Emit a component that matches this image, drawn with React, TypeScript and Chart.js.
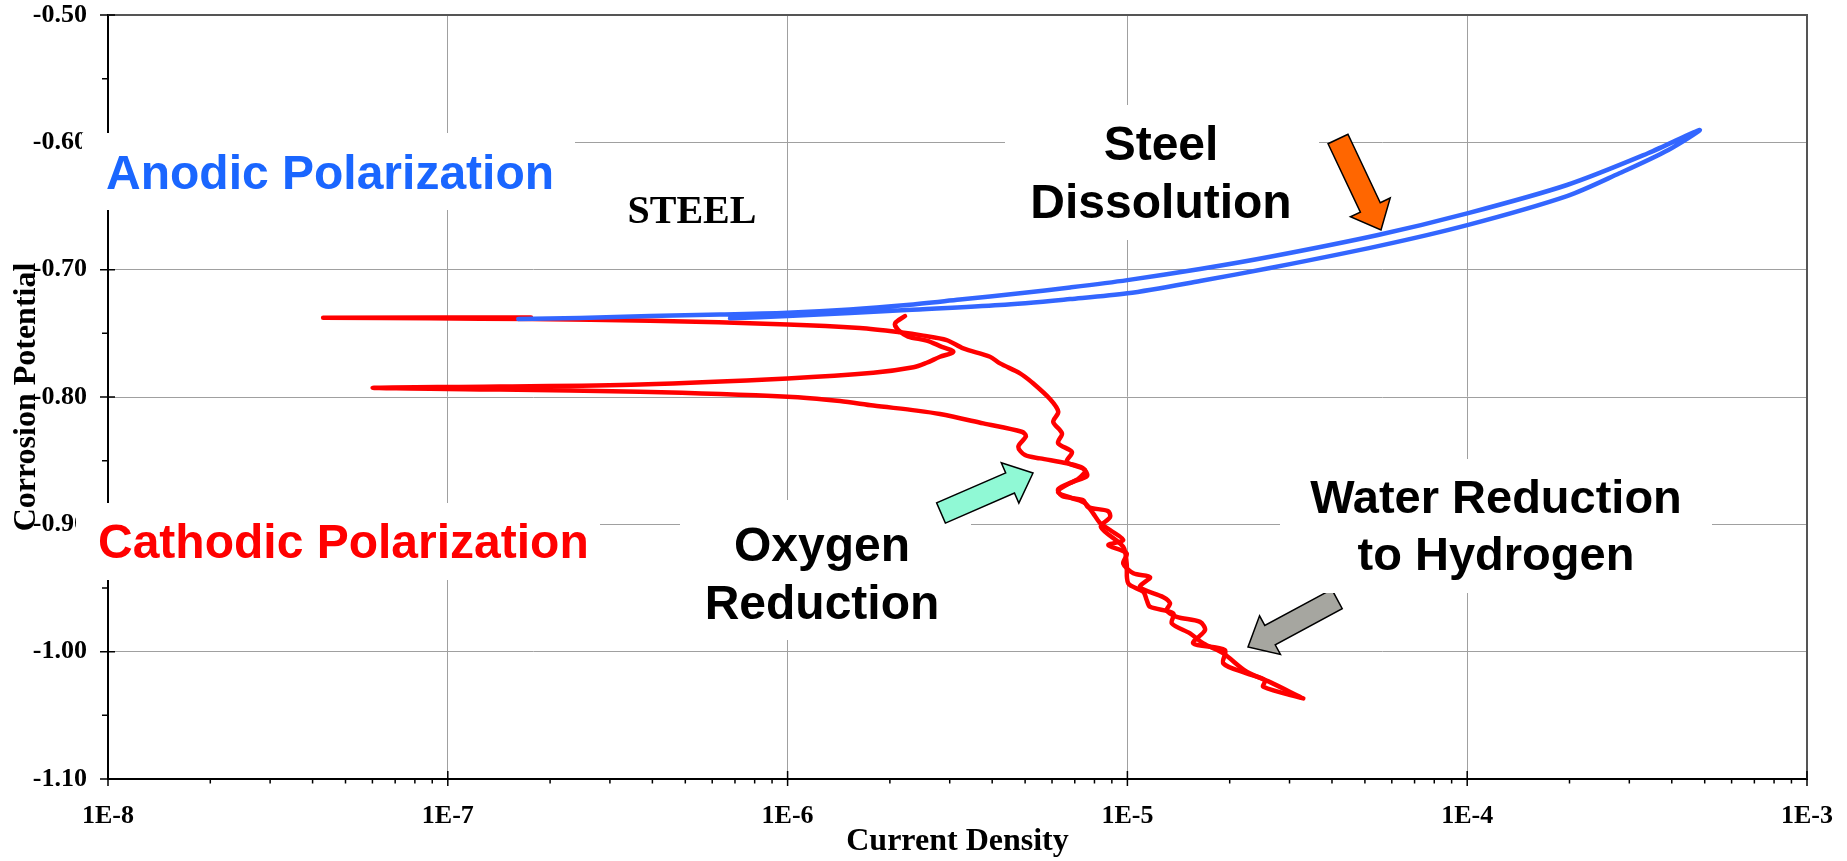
import React, { useEffect, useRef } from 'react';
import { Chart, registerables } from 'chart.js';

Chart.register(...registerables);

// ---- axis ticks ----
const xTickValues = [1e-8, 1e-7, 1e-6, 1e-5, 1e-4, 1e-3];
const xTickLabels = ['1E-8', '1E-7', '1E-6', '1E-5', '1E-4', '1E-3'];
const xMinorFactors = [2, 3, 4, 5, 6, 7, 8, 9];
const yTickValues = [-1.1, -1.0, -0.9, -0.8, -0.7, -0.6, -0.5];
const yTickLabels = ['-1.10', '-1.00', '-0.90', '-0.80', '-0.70', '-0.60', '-0.50'];
const yMinorValues = [-1.05, -0.95, -0.85, -0.75, -0.65, -0.55];

// ---- anodic scan (blue) ----
const anodicCurrent = [
  1.612e-7, 2.449e-7, 3.936e-7, 6.32e-7, 1.0e-6, 1.526e-6, 2.242e-6, 3.216e-6, 4.83e-6, 6.78e-6,
  1.0e-5, 1.636e-5, 2.629e-5, 5.465e-5, 1.0e-4, 1.966e-4, 3.404e-4, 4.834e-4, 3.908e-4, 2.805e-4,
  1.966e-4, 1.0e-4, 5.465e-5, 2.629e-5, 1.636e-5, 1.0e-5, 6.78e-6, 4.217e-6, 2.242e-6, 1.526e-6,
  1.0e-6, 6.77e-7,
];
const anodicPotential = [
  -0.7388, -0.738, -0.7364, -0.7353, -0.7338, -0.7313, -0.7278, -0.7235, -0.7186, -0.714,
  -0.7082, -0.6995, -0.6899, -0.6728, -0.6558, -0.6335, -0.6086, -0.5903, -0.606, -0.6243,
  -0.6422, -0.665, -0.6815, -0.6987, -0.7089, -0.7186, -0.7231, -0.7278, -0.7317, -0.7341,
  -0.7364, -0.7382,
];

// ---- cathodic scan A (red) ----
const cathodicACurrent = [
  1.758e-7, 4.322e-8, 8.864e-8, 1.758e-7, 3.936e-7, 1.0e-6, 1.633e-6, 2.142e-6, 2.508e-6, 2.939e-6,
  3.289e-6, 3.941e-6, 4.217e-6, 4.83e-6, 5.228e-6, 5.918e-6, 6.26e-6, 6.05e-6, 6.42e-6, 6.25e-6,
  6.87e-6, 6.63e-6, 7.5e-6, 7.155e-6, 6.26e-6, 6.42e-6, 7.4e-6, 7.66e-6, 8.77e-6, 8.89e-6,
  8.36e-6, 9.72e-6, 9.95e-6, 1.006e-5, 1.114e-5, 1.14e-5, 1.166e-5, 1.366e-5, 1.351e-5, 1.529e-5,
  1.674e-5, 1.916e-5, 2.244e-5, 2.629e-5, 3.22e-5,
];
const cathodicAPotential = [
  -0.7376, -0.7378, -0.7382, -0.7388, -0.7401, -0.743, -0.7459, -0.7492, -0.7518, -0.7553,
  -0.7618, -0.7684, -0.7736, -0.7814, -0.7883, -0.8016, -0.8116, -0.8195, -0.8286, -0.8362,
  -0.8433, -0.8509, -0.8574, -0.8645, -0.8723, -0.8778, -0.881, -0.8865, -0.8896, -0.8943,
  -0.9022, -0.9176, -0.9307, -0.9464, -0.953, -0.9595, -0.9648, -0.97, -0.9778, -0.9857,
  -0.9935, -1.0014, -1.0158, -1.0239, -1.0355,
];

// ---- cathodic scan B (red) ----
const cathodicBCurrent = [
  2.216e-6, 2.071e-6, 2.118e-6, 2.261e-6, 2.567e-6, 2.809e-6, 3.075e-6, 2.809e-6, 2.567e-6, 2.346e-6,
  1.787e-6, 1.0e-6, 3.679e-7, 1.424e-7, 6.01e-8, 1.424e-7, 3.679e-7, 1.0e-6, 1.426e-6, 1.787e-6,
  2.399e-6, 2.809e-6, 3.767e-6, 4.886e-6, 5.03e-6, 4.775e-6, 4.997e-6, 5.534e-6, 6.63e-6, 7.4e-6,
  7.605e-6, 6.78e-6, 6.25e-6, 6.87e-6, 7.5e-6, 7.92e-6, 8.31e-6, 8.89e-6, 9.72e-6, 8.79e-6,
  9.95e-6, 9.72e-6, 1.041e-5, 1.166e-5, 1.089e-5, 1.276e-5, 1.335e-5, 1.305e-5, 1.397e-5, 1.636e-5,
  1.692e-5, 1.563e-5, 1.937e-5, 1.915e-5, 2.244e-5, 2.541e-5, 2.512e-5, 3.294e-5,
];
const cathodicBPotential = [
  -0.7364, -0.7422, -0.7474, -0.7525, -0.7557, -0.76, -0.7645, -0.7684, -0.7731, -0.7767,
  -0.781, -0.7854, -0.7901, -0.7918, -0.7928, -0.7942, -0.7959, -0.7998, -0.8032, -0.8067,
  -0.8107, -0.8134, -0.8207, -0.8273, -0.8307, -0.8391, -0.8456, -0.8482, -0.8521, -0.8558,
  -0.8621, -0.8676, -0.8747, -0.8794, -0.8833, -0.8912, -0.899, -0.9045, -0.9124, -0.9163,
  -0.9228, -0.9307, -0.9385, -0.9415, -0.9493, -0.9572, -0.9621, -0.9674, -0.9726, -0.9766,
  -0.9831, -0.9935, -0.9988, -1.0092, -1.0171, -1.0224, -1.0276, -1.0367,
];

const toPoints = (xs: number[], ys: number[]) => xs.map((x, i) => ({ x, y: ys[i] }));

const SERIF = '"Liberation Serif", "Times New Roman", serif';
const SANS = '"Liberation Sans", Arial, sans-serif';

type Box = { x: number; y: number; w: number; h: number };
type Note = { box: Box; lines: string[]; color: string; align: 'left' | 'center'; tx: number; baselines: number[]; font: string };

const notes: Note[] = [
  { box: { x: 82, y: 133, w: 493, h: 77 }, lines: ['Anodic Polarization'], color: '#1a66ff', align: 'left', tx: 106, baselines: [189], font: `bold 48px ${SANS}` },
  { box: { x: 76, y: 503, w: 524, h: 77 }, lines: ['Cathodic Polarization'], color: '#ff0000', align: 'left', tx: 98, baselines: [558], font: `bold 48px ${SANS}` },
  { box: { x: 1005, y: 105, w: 314, h: 135 }, lines: ['Steel', 'Dissolution'], color: '#000', align: 'center', tx: 1161, baselines: [160, 218], font: `bold 48px ${SANS}` },
  { box: { x: 680, y: 500, w: 291, h: 140 }, lines: ['Oxygen', 'Reduction'], color: '#000', align: 'center', tx: 822, baselines: [561, 619], font: `bold 48px ${SANS}` },
  { box: { x: 1280, y: 459, w: 432, h: 134 }, lines: ['Water Reduction', 'to Hydrogen'], color: '#000', align: 'center', tx: 1496, baselines: [513, 570], font: `bold 47px ${SANS}` },
];

function drawArrow(ctx: CanvasRenderingContext2D, tail: [number, number], tip: [number, number], fill: string) {
  const w = 11, hw = 22, hl = 25;
  const dx = tip[0] - tail[0], dy = tip[1] - tail[1];
  const len = Math.hypot(dx, dy);
  const ux = dx / len, uy = dy / len;
  const nx = -uy, ny = ux;
  const neckX = tip[0] - ux * hl, neckY = tip[1] - uy * hl;
  ctx.beginPath();
  ctx.moveTo(tail[0] + nx * w, tail[1] + ny * w);
  ctx.lineTo(neckX + nx * w, neckY + ny * w);
  ctx.lineTo(neckX + nx * hw, neckY + ny * hw);
  ctx.lineTo(tip[0], tip[1]);
  ctx.lineTo(neckX - nx * hw, neckY - ny * hw);
  ctx.lineTo(neckX - nx * w, neckY - ny * w);
  ctx.lineTo(tail[0] - nx * w, tail[1] - ny * w);
  ctx.closePath();
  ctx.fillStyle = fill;
  ctx.fill();
  ctx.strokeStyle = '#000';
  ctx.lineWidth = 1.5;
  ctx.lineJoin = 'miter';
  ctx.stroke();
}

const overlayPlugin = {
  id: 'overlay',
  afterDraw(chart: any) {
    const ctx: CanvasRenderingContext2D = chart.ctx;
    const { left, right, top, bottom } = chart.chartArea;
    const xs = chart.scales.x;
    const ys = chart.scales.y;
    ctx.save();
    // frame top / right
    ctx.strokeStyle = '#555';
    ctx.lineWidth = 2;
    ctx.beginPath();
    ctx.moveTo(left, top);
    ctx.lineTo(right, top);
    ctx.lineTo(right, bottom);
    ctx.stroke();
    // tick marks
    ctx.strokeStyle = '#000';
    ctx.lineWidth = 1.5;
    ctx.beginPath();
    yTickValues.forEach((v) => {
      const y = ys.getPixelForValue(v);
      ctx.moveTo(left - 8, y);
      ctx.lineTo(left + 7, y);
    });
    yMinorValues.forEach((v) => {
      const y = ys.getPixelForValue(v);
      ctx.moveTo(left - 6, y);
      ctx.lineTo(left, y);
    });
    xTickValues.forEach((v) => {
      const x = xs.getPixelForValue(v);
      ctx.moveTo(x, bottom - 8);
      ctx.lineTo(x, bottom + 7);
    });
    for (let d = 0; d < xTickValues.length - 1; d++) {
      xMinorFactors.forEach((f) => {
        const x = xs.getPixelForValue(xTickValues[d] * f);
        ctx.moveTo(x, bottom);
        ctx.lineTo(x, bottom + 4.5);
      });
    }
    ctx.stroke();

    // grey arrow (partly hidden by the text box)
    drawArrow(ctx, [1337, 599], [1248, 647], '#a6a6a0');

    // text boxes
    notes.forEach((n) => {
      ctx.fillStyle = '#fff';
      ctx.fillRect(n.box.x, n.box.y, n.box.w, n.box.h);
      ctx.fillStyle = n.color;
      ctx.font = n.font;
      ctx.textAlign = n.align;
      ctx.textBaseline = 'alphabetic';
      n.lines.forEach((t, i) => ctx.fillText(t, n.tx, n.baselines[i]));
    });

    // STEEL label
    ctx.fillStyle = '#000';
    ctx.font = `bold 40px ${SERIF}`;
    ctx.textAlign = 'center';
    ctx.fillText('STEEL', 692, 223);

    // arrows
    drawArrow(ctx, [1338, 139], [1381, 230], '#ff6600');
    drawArrow(ctx, [941, 513], [1033, 473], '#90f9d5');
    ctx.restore();
  },
};

export default function App() {
  const ref = useRef<HTMLCanvasElement>(null);

  useEffect(() => {
    if (!ref.current) return;
    const tickFont = { family: SERIF, size: 26, weight: 'bold' as const };
    const lineStyle = {
      showLine: true,
      pointRadius: 0,
      tension: 0.3,
      borderWidth: 4.5,
      borderCapStyle: 'round',
      borderJoinStyle: 'round',
    };
    const chart = new Chart(ref.current, {
      type: 'scatter',
      data: {
        datasets: [
          {
            ...lineStyle,
            label: 'Anodic',
            data: toPoints(anodicCurrent, anodicPotential),
            borderColor: '#3366ff',
            backgroundColor: '#3366ff',
          },
          {
            ...lineStyle,
            label: 'Cathodic A',
            data: toPoints(cathodicACurrent, cathodicAPotential),
            borderColor: '#ff0000',
            backgroundColor: '#ff0000',
          },
          {
            ...lineStyle,
            label: 'Cathodic B',
            data: toPoints(cathodicBCurrent, cathodicBPotential),
            borderColor: '#ff0000',
            backgroundColor: '#ff0000',
          },
        ],
      },
      options: {
        responsive: false,
        maintainAspectRatio: false,
        animation: false,
        devicePixelRatio: 1,
        layout: { padding: { top: 15, right: 40, bottom: 0, left: 0 } },
        plugins: {
          legend: { display: false },
          tooltip: { enabled: false },
        },
        scales: {
          x: {
            type: 'logarithmic',
            min: 1e-8,
            max: 1e-3,
            afterBuildTicks: (s: any) => {
              s.ticks = xTickValues.map((v) => ({ value: v, major: true }));
            },
            afterFit: (s: any) => {
              s.height = 82;
              s.paddingLeft = 0;
              s.paddingRight = 0;
            },
            grid: { color: '#a0a0a0', lineWidth: 1, drawTicks: false },
            border: { display: true, color: '#000', width: 2 },
            ticks: {
              autoSkip: false,
              maxRotation: 0,
              minRotation: 0,
              padding: 22,
              color: '#000',
              font: tickFont,
              callback: (v: any) => {
                const i = xTickValues.findIndex((t) => Math.abs(Math.log10(t) - Math.log10(Number(v))) < 1e-6);
                return i >= 0 ? xTickLabels[i] : '';
              },
            },
            title: {
              display: true,
              text: 'Current Density',
              color: '#000',
              font: { family: SERIF, size: 32, weight: 'bold' },
              padding: { top: 0, bottom: 0 },
            },
          },
          y: {
            type: 'linear',
            min: -1.1,
            max: -0.5,
            afterBuildTicks: (s: any) => {
              s.ticks = yTickValues.map((v) => ({ value: v }));
            },
            afterFit: (s: any) => {
              s.width = 108;
              s.paddingTop = 0;
              s.paddingBottom = 0;
            },
            grid: { color: '#a0a0a0', lineWidth: 1, drawTicks: false },
            border: { display: true, color: '#000', width: 2 },
            ticks: {
              padding: 21,
              color: '#000',
              font: tickFont,
              callback: (v: any) => {
                const i = yTickValues.findIndex((t) => Math.abs(t - Number(v)) < 1e-6);
                return i >= 0 ? yTickLabels[i] : Number(v).toFixed(2);
              },
            },
            title: {
              display: true,
              text: 'Corrosion Potential',
              color: '#000',
              font: { family: SERIF, size: 32, weight: 'bold' },
              padding: { top: 8, bottom: 0 },
            },
          },
        },
      },
      plugins: [overlayPlugin],
    } as any);
    return () => chart.destroy();
  }, []);

  return (
    <div style={{ position: 'absolute', left: 0, top: 0, width: 1847, height: 861, background: '#fff' }}>
      <canvas ref={ref} width={1847} height={861} style={{ display: 'block', width: 1847, height: 861 }} />
    </div>
  );
}
